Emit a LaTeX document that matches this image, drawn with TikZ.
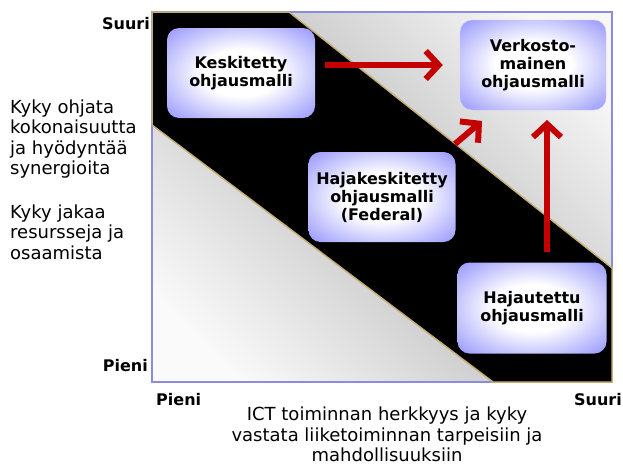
\documentclass[tikz,border=0pt]{standalone}
\usepackage{fontspec}
\setmainfont{DejaVu Sans}
\usetikzlibrary{arrows.meta, calc}
\definecolor{boxblue}{RGB}{138,138,252}
\definecolor{arrred}{RGB}{196,0,0}
\definecolor{frameblue}{RGB}{140,140,222}
\definecolor{edgetan}{RGB}{196,176,118}
\pgfdeclareradialshading{boxglow}{\pgfpoint{0bp}{0bp}}{color(0bp)=(white); color(13bp)=(white); color(38bp)=(boxblue); color(50bp)=(boxblue)}

\begin{document}
\begin{tikzpicture}[x=1pt, y=-1pt,
	model/.style={shade, shading=boxglow, rounded corners=12pt,
		minimum width=148pt, minimum height=90pt, align=center,
		font=\fontsize{16}{18}\selectfont\bfseries},
	shiftarrow/.style={draw=arrred, line width=6pt,
		-{Straight Barb[length=13pt, width=28pt]}},
	axislabel/.style={font=\fontsize{16}{18}\selectfont\bfseries, inner sep=0pt},
	sidetext/.style={inner sep=0pt, font=\fontsize{18}{20.5}\selectfont}]
	\useasboundingbox (0,0) rectangle (623,466);
%	\draw (152,12) rectangle (612,382);
	\coordinate (TL) at (152,12);
	\coordinate (TR) at (612,12);
	\coordinate (BR) at (612,382);
	\coordinate (BL) at (152,382);
	\coordinate (U1) at (289,12);
	\coordinate (U2) at (612,268);
	\coordinate (L1) at (152,125);
	\coordinate (L2) at (493,382);

	\shade [top color=black!3, bottom color=black!30, shading angle=-45] (U1) -- (TR) -- (U2) -- cycle;
	\shade [top color=black!30, bottom color=black!2, shading angle=-45] (L1) -- (L2) -- (BL) -- cycle;
	\draw [frameblue, line width=1.5pt] (TL) rectangle (BR);
	\draw [edgetan, line width=1.5pt, fill=black] (TL) -- (U1) -- (U2) -- (BR) -- (L2) -- (L1) -- cycle;

	\node [model] (kesk) at (241,73) {Keskitetty\\ohjausmalli};
	\node [model, minimum width=146pt, draw=white!60!boxblue, thin] (verk) at (533,65) {Verkosto-\\mainen\\ohjausmalli};
	\node [model, minimum width=147pt] (hajak) at (382,197) {Hajakeskitetty\\ohjausmalli\\(Federal)};
	\node [model, minimum width=149pt, minimum height=91pt] (hajau) at (532,308) {Hajautettu\\ohjausmalli};

	\coordinate (A2s) at (455,144);
	\coordinate (A2e) at (482,121);
	\coordinate (A3s) at (547,252);
	\coordinate (A3e) at (547,120);
	\draw [shiftarrow, shorten <=10pt, shorten >=17pt] (kesk.east |- verk) -- (verk.west);
	\draw [shiftarrow] (A2s) -- (A2e);
	\draw [shiftarrow] (A3s) -- (A3e);

	\node [axislabel, anchor=east] (ysuuri) at (150,24) {Suuri};
	\node [axislabel, anchor=east] (ypieni) at (148,366) {Pieni};
	\node [axislabel, anchor=west] (xpieni) at (156,400) {Pieni};
	\node [axislabel, anchor=east] (xsuuri) at (622,400) {Suuri};

	\node [sidetext, anchor=west, align=left] (ykyky1) at (10,139)
		{Kyky ohjata\\kokonaisuutta\\ja hyödyntää\\synergioita};
	\node [sidetext, anchor=west, align=left] (ykyky2) at (10,232)
		{Kyky jakaa\\resursseja ja\\osaamista};
	\node [sidetext, anchor=north, align=center] (xkyky) at (387,407)
		{ICT toiminnan herkkyys ja kyky\\vastata liiketoiminnan tarpeisiin ja\\mahdollisuuksiin};

\end{tikzpicture}
\end{document}
